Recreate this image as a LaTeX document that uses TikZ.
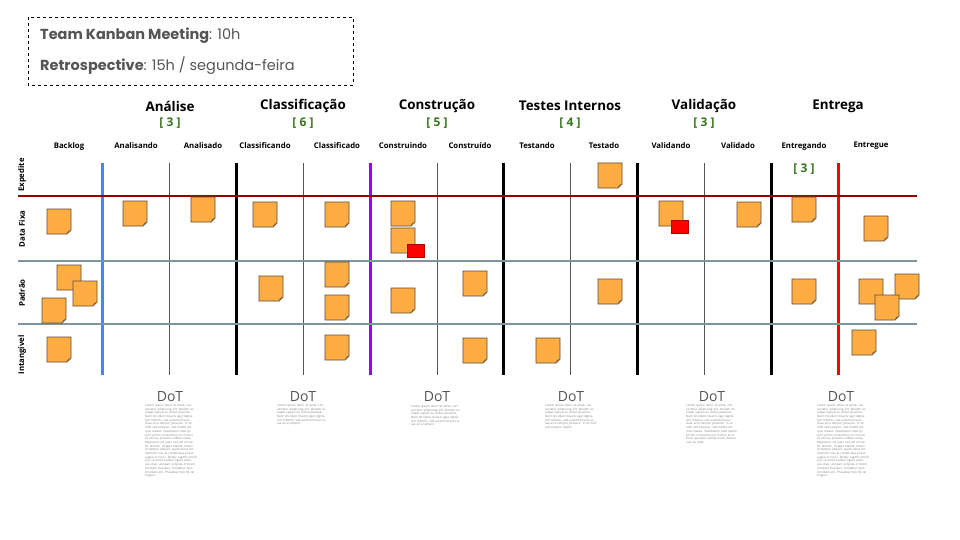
\documentclass[tikz,border=0pt]{standalone}
\usepackage{fontspec}
\setmainfont{Open Sans}
\newfontfamily\poppfont{Poppins}
\definecolor{stickyfill}{HTML}{FFAD42}
\definecolor{stickyline}{HTML}{5E4B35}
\definecolor{stickyfold}{HTML}{8A6A40}
\definecolor{lanegray}{HTML}{7F959E}
\definecolor{darkred}{HTML}{990000}
\definecolor{wipgreen}{HTML}{38761D}
\definecolor{blueline}{HTML}{4A86E8}
\definecolor{purpleline}{HTML}{9900FF}
\definecolor{textgray}{HTML}{555555}
\definecolor{bodygray}{HTML}{808080}
\newcommand\stickynote[2]{%
  \begin{scope}[shift={(#1,#2)}]
    \filldraw[fill=stickyfill,draw=stickyline,line width=0.8pt] (0,0) -- (24,0) -- (24,21) -- (20,25) -- (0,25) -- cycle;
    \fill[stickyfold] (24,21) -- (20,25) -- (21,22) -- cycle;
  \end{scope}}
\newcommand\redmark[2]{%
  \filldraw[fill=red,draw=red!70!black,line width=0.8pt] (#1,#2) rectangle ++(17,13);}
\newcommand\loremA{Lorem ipsum dolor sit amet, consectetur adipiscing elit. Nullam volutpat sapien eu luctus placerat. Nam tincidunt mauris eget dignissim lobortis, sed euismod lacus vitae arcu tempor posuere. In ut nibh sed tempus. Sed mattis est quis massa. Vestibulum ante ipsum primis in faucibus orci luctus et ultrices posuere cubilia curae; Maecenas vel justo sed est convallis laoreet. Integer blandit, lectus id tempor aliquet, quam tellus fermentum nisi, at scelerisque purus augue et nunc. Donec sagittis mollis dui, sit amet sodales ligula vehicula vitae. Aenean ut ligula id lorem molestie faucibus. Curabitur quis tincidunt elit. Phasellus non mi vel magna.}
\newcommand\loremB{Lorem ipsum dolor sit amet, consectetur adipiscing elit. Nullam volutpat sapien eu luctus placerat. Nam tincidunt mauris eget dignissim lobortis, sed euismod lacus vitae arcu tempor.}
\newcommand\loremC{Lorem ipsum dolor sit amet, consectetur adipiscing elit. Nullam volutpat sapien eu luctus placerat. Nam tincidunt mauris eget dignissim lobortis, sed euismod lacus vitae arcu tempor posuere. In ut nibh sed tempus mattis.}
\newcommand\loremD{Lorem ipsum dolor sit amet, consectetur adipiscing elit. Nullam volutpat sapien eu luctus placerat. Nam tincidunt mauris eget dignissim lobortis, sed euismod lacus vitae arcu tempor posuere. In ut nibh sed tempus. Sed mattis est quis massa. Vestibulum ante ipsum primis in faucibus orci luctus et ultrices posuere cubilia curae; Maecenas vel justo.}
\begin{document}
\begin{tikzpicture}[x=1pt,y=-1pt,
  stagehead/.style={font=\bfseries\fontsize{13.4}{15}\selectfont,text=black,inner sep=0},
  wiplimit/.style={font=\bfseries\fontsize{12}{14}\selectfont,text=wipgreen,inner sep=0},
  subhead/.style={font=\bfseries\fontsize{7.8}{9}\selectfont,text=black,inner sep=0},
  lanelabel/.style={font=\bfseries\fontsize{7.8}{9}\selectfont,text=black,inner sep=0,rotate=90},
  dothead/.style={font=\fontsize{14}{16}\selectfont,text=textgray,inner sep=0},
  dotbody/.style={font=\fontsize{3}{3.7}\selectfont,text=bodygray,inner sep=0,text width=52pt,align=left,anchor=north west},
  thinline/.style={draw=textgray,line width=0.7pt},
  thickline/.style={line width=3pt},
  laneline/.style={line width=2.6pt}]
\useasboundingbox (0,0) rectangle (960,540);
\fill[white] (0,0) rectangle (960,540);

% info box
\draw[dashed,line width=0.8pt,black] (28,17) rectangle (353,85);
\node[anchor=west,inner sep=0,text=textgray,font=\poppfont\fontsize{14.5}{16}\selectfont] (meeting) at (40,36) {\textbf{Team Kanban Meeting}: 10h};
\node[anchor=west,inner sep=0,text=textgray,font=\poppfont\fontsize{14.5}{16}\selectfont] (retro) at (40,66) {\textbf{Retrospective}: 15h / segunda-feira};

% stage headers
\node[stagehead] (h1) at (170,106) {Análise};
\node[stagehead] (h2) at (303,106) {Classificação};
\node[stagehead] (h3) at (437,106) {Construção};
\node[stagehead] (h4) at (570,106) {Testes Internos};
\node[stagehead] (h5) at (704,106) {Validação};
\node[stagehead] (h6) at (838,106) {Entrega};
\node[wiplimit] (w1) at (170,123) {[ 3 ]};
\node[wiplimit] (w2) at (303,123) {[ 6 ]};
\node[wiplimit] (w3) at (437,123) {[ 5 ]};
\node[wiplimit] (w4) at (570,123) {[ 4 ]};
\node[wiplimit] (w5) at (704,123) {[ 3 ]};
\node[wiplimit] (w6) at (804,169) {[ 3 ]};

% sub-column headers
\node[subhead] (s0) at (69,146) {Backlog};
\node[subhead] (s1) at (136,146) {Analisando};
\node[subhead] (s2) at (203,146) {Analisado};
\node[subhead] (s3) at (265,146) {Classificando};
\node[subhead] (s4) at (337,146) {Classificado};
\node[subhead] (s5) at (403,146) {Construindo};
\node[subhead] (s6) at (470,146) {Construído};
\node[subhead] (s7) at (537,146) {Testando};
\node[subhead] (s8) at (604,146) {Testado};
\node[subhead] (s9) at (671,146) {Validando};
\node[subhead] (s10) at (738,146) {Validado};
\node[subhead] (s11) at (804,146) {Entregando};
\node[subhead] (s12) at (871,146) {Entregue};

% lane labels
\node[lanelabel] (l1) at (22,175) {Expedite};
\node[lanelabel] (l2) at (22,229) {Data Fixa};
\node[lanelabel] (l3) at (22,293) {Padrão};
\node[lanelabel] (l4) at (22,355) {Intangível};

% thin vertical lines
\foreach \x in {169,303,437,570,704} \draw[thinline] (\x,163) -- (\x,375);
% thick vertical lines
\draw[thickline,blueline] (102,163) -- (102,375);
\draw[thickline,black] (236,163) -- (236,375);
\draw[thickline,purpleline] (370,163) -- (370,375);
\draw[thickline,black] (503,163) -- (503,375);
\draw[thickline,black] (637,163) -- (637,375);
\draw[thickline,black] (771,163) -- (771,375);
\draw[thickline,red] (838,163) -- (838,375);

% horizontal lane lines
\draw[laneline,darkred] (18,196) -- (917,196);
\draw[laneline,lanegray] (18,261) -- (917,261);
\draw[laneline,lanegray] (18,324) -- (917,324);

% sticky notes - Expedite
\stickynote{598}{163}
% Data Fixa
\stickynote{47}{209}
\stickynote{123}{201}
\stickynote{191}{197}
\stickynote{253}{202}
\stickynote{325}{202}
\stickynote{391}{201}
\stickynote{391}{228}
\redmark{407}{244}
\stickynote{659}{201}
\redmark{671}{220}
\stickynote{737}{202}
\stickynote{792}{197}
\stickynote{864}{216}
% Padrao
\stickynote{57}{265}
\stickynote{73}{281}
\stickynote{42}{298}
\stickynote{259}{276}
\stickynote{325}{262}
\stickynote{325}{295}
\stickynote{391}{288}
\stickynote{463}{271}
\stickynote{598}{279}
\stickynote{792}{279}
\stickynote{859}{279}
\stickynote{895}{274}
\stickynote{875}{295}
% Intangivel
\stickynote{47}{337}
\stickynote{325}{335}
\stickynote{463}{338}
\stickynote{536}{338}
\stickynote{852}{330}

% DoT
\node[dothead] (d1) at (170,397) {DoT};
\node[dothead] (d2) at (303,397) {DoT};
\node[dothead] (d3) at (437,397) {DoT};
\node[dothead] (d4) at (571,397) {DoT};
\node[dothead] (d5) at (712,397) {DoT};
\node[dothead] (d6) at (841,397) {DoT};
\node[dotbody] (t1) at (145,404) {\loremA};
\node[dotbody] (t2) at (277,404) {\loremB};
\node[dotbody] (t3) at (411,405) {\loremB};
\node[dotbody] (t4) at (545,404) {\loremC};
\node[dotbody] (t5) at (686,404) {\loremD};
\node[dotbody] (t6) at (817,404) {\loremA};
\end{tikzpicture}
\end{document}
